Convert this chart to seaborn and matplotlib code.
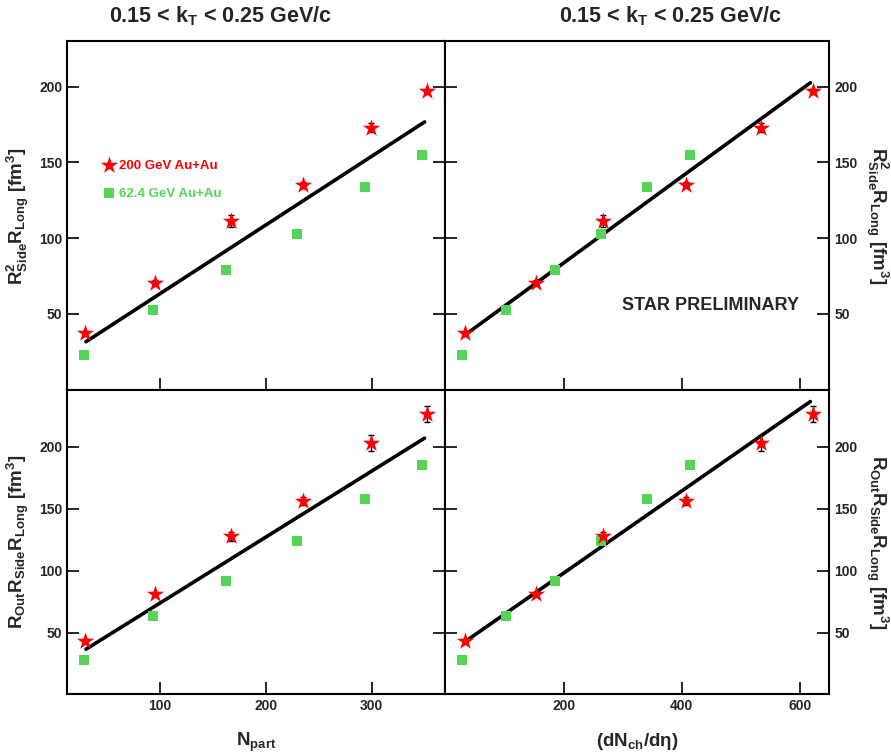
import numpy as np
import pandas as pd
import matplotlib
matplotlib.use("Agg")
import matplotlib.pyplot as plt
import seaborn as sns

sns.set_theme(style="white")
plt.rcParams["font.family"] = ["Liberation Sans", "DejaVu Sans"]
plt.rcParams["font.weight"] = "bold"
plt.rcParams["axes.labelweight"] = "bold"
plt.rcParams["mathtext.fontset"] = "custom"
plt.rcParams["mathtext.rm"] = "Liberation Sans:bold"
plt.rcParams["mathtext.it"] = "Liberation Sans:bold"
plt.rcParams["mathtext.bf"] = "Liberation Sans:bold"

# data
npart_200 = [29, 95, 167, 235, 299, 352]
npart_62 = [28, 93, 162, 229, 294, 348]
dndeta_200 = [33, 153, 267, 407, 534, 623]
dndeta_62 = [28, 103, 185, 264, 342, 414]

side_200 = [37, 70.5, 111.5, 135, 173, 197]
side_200_err = [1.5, 1.5, 4, 2, 3, 1.5]
side_62 = [22.7, 52.5, 79, 103, 133.5, 155]

out_200 = [43, 81, 127.5, 156, 203, 226]
out_200_err = [2, 2, 4, 3, 6.5, 6.5]
out_62 = [28, 63, 92, 124, 157.5, 185.5]

# linear fits (end points)
fit_npart = [30, 350]
fit_side_npart = [31.5, 176.7]
fit_out_npart = [36.6, 206.8]
fit_dndeta = [33, 618]
fit_side_dndeta = [36, 202.6]
fit_out_dndeta = [42.7, 236.3]

red = "#ff0000"
green = "#55d455"

fig, axes = plt.subplots(2, 2, figsize=(8.91, 7.56), dpi=100,
                         gridspec_kw=dict(height_ratios=[349.5, 303.5],
                                          width_ratios=[377.7, 384.6]))
fig.subplots_adjust(left=0.0752, right=0.9307, bottom=0.082, top=0.9458,
                    wspace=0, hspace=0)

panels = [
    (axes[0, 0], npart_200, npart_62, side_200, side_200_err, side_62, fit_npart, fit_side_npart),
    (axes[0, 1], dndeta_200, dndeta_62, side_200, side_200_err, side_62, fit_dndeta, fit_side_dndeta),
    (axes[1, 0], npart_200, npart_62, out_200, out_200_err, out_62, fit_npart, fit_out_npart),
    (axes[1, 1], dndeta_200, dndeta_62, out_200, out_200_err, out_62, fit_dndeta, fit_out_dndeta),
]

for ax, x200, x62, y200, e200, y62, fx, fy in panels:
    sns.lineplot(x=fx, y=fy, ax=ax, color="black", linewidth=2.6, zorder=2)
    ax.errorbar(x200, y200, yerr=e200, fmt="none", ecolor="black",
                elinewidth=1, capsize=2.5, capthick=1, zorder=3)
    sns.scatterplot(x=x62, y=y62, ax=ax, marker="s", s=55, color=green,
                    linewidth=0, zorder=4, label="62.4 GeV Au+Au")
    sns.scatterplot(x=x200, y=y200, ax=ax, marker="*", s=170, color=red,
                    linewidth=0, zorder=5, label="200 GeV Au+Au")
    ax.set_yticks([50, 100, 150, 200])
    ax.tick_params(direction="in", length=8.5, width=1.4, labelsize=10,
                   left=True, right=True, bottom=True, top=False)
    for sp in ax.spines.values():
        sp.set_linewidth(1.5)
        sp.set_color("black")
    ax.set_xlabel("")
    ax.set_ylabel("")
    if ax.get_legend() is not None:
        ax.get_legend().remove()

for ax in axes[:, 0]:
    ax.set_xlim(12.1, 369)
    ax.set_xticks([100, 200, 300])
for ax in axes[:, 1]:
    ax.set_xlim(-1.5, 650)
    ax.set_xticks([200, 400, 600])
    ax.yaxis.tick_right()
    ax.tick_params(left=True, right=True, direction="in")
    ax.yaxis.set_label_position("right")
for ax in axes[0, :]:
    ax.set_ylim(-0.7, 230.2)
    ax.tick_params(labelbottom=False)
for ax in axes[1, :]:
    ax.set_ylim(0.5, 245.2)

for ax in axes.flat:
    for lab in ax.get_yticklabels() + ax.get_xticklabels():
        lab.set_fontweight("bold")

side_label = r"R$^{2}_{Side}$R$_{Long}$ [fm$^{3}$]"
out_label = r"R$_{Out}$R$_{Side}$R$_{Long}$ [fm$^{3}$]"
axes[0, 0].set_ylabel(side_label, fontsize=13.5, labelpad=6)
axes[1, 0].set_ylabel(out_label, fontsize=13.5, labelpad=6)
axes[0, 1].set_ylabel(side_label, fontsize=13.5, rotation=270, labelpad=24)
axes[1, 1].set_ylabel(out_label, fontsize=13.5, rotation=270, labelpad=24)

axes[1, 0].set_xlabel(r"N$_{part}$", fontsize=13.5, labelpad=13)
axes[1, 1].set_xlabel(r"(dN$_{ch}$/dη)", fontsize=13.5, labelpad=13)

title = r"0.15 < k$_{T}$ < 0.25 GeV/c"
fig.text(0.248, 0.978, title, fontsize=15.5, ha="center", va="center")
fig.text(0.753, 0.978, title, fontsize=15.5, ha="center", va="center")

axes[0, 1].text(0.69, 0.242, "STAR PRELIMINARY", transform=axes[0, 1].transAxes,
                fontsize=13, ha="center", va="center")

handles, labels = axes[0, 0].get_legend_handles_labels()
axes[0, 0].legend(handles[::-1], labels[::-1], loc="upper left",
                  bbox_to_anchor=(0.06, 0.695), frameon=False, fontsize=9.5,
                  handletextpad=0.1, labelspacing=1.2, handlelength=1.2,
                  labelcolor=[red, green])

fig.savefig("out.png", dpi=100)
